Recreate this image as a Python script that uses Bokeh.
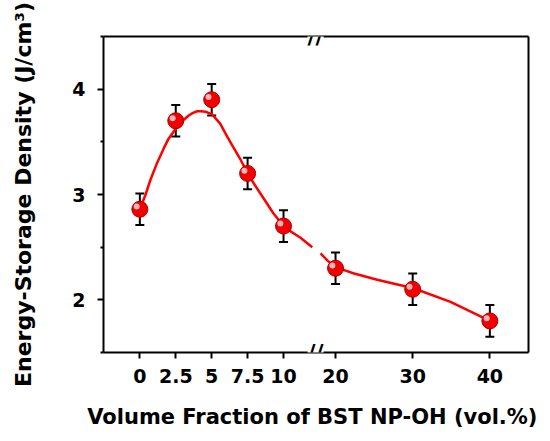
from bokeh.plotting import figure
from bokeh.models import (FixedTicker, Whisker, TeeHead, ColumnDataSource,
                          Range1d, Label, LinearAxis)
from bokeh.embed import file_html
from bokeh.resources import INLINE

# ---- data ----
fraction = [0, 2.5, 5, 7.5, 10, 20, 30, 40]
density = [2.86, 3.70, 3.90, 3.20, 2.70, 2.30, 2.10, 1.80]
err = [0.15, 0.15, 0.15, 0.15, 0.15, 0.15, 0.15, 0.15]
tick_labels = ["0", "2.5", "5", "7.5", "10", "20", "30", "40"]

# fitted curve, left part (before axis break) and right part (after)
curve_left_x = [0, 0.4, 0.74, 1.2, 1.67, 2.0, 2.37, 2.7, 3.06, 3.4, 3.7, 4.0,
                4.22, 4.6, 5.04, 5.6, 6.08, 6.5, 7.01, 7.47, 8.0, 8.63, 9.3,
                10.02, 10.6, 11.18, 12.0]
curve_left_y = [2.86, 3.00, 3.14, 3.30, 3.44, 3.53, 3.60, 3.66, 3.71, 3.75,
                3.775, 3.79, 3.79, 3.785, 3.76, 3.67, 3.55, 3.45, 3.33, 3.21,
                3.09, 2.96, 2.82, 2.70, 2.64, 2.59, 2.50]
curve_right_x = [18.06, 19.0, 20, 21.2, 22.4, 25.4, 30.1, 34.9, 40]
curve_right_y = [2.44, 2.37, 2.31, 2.28, 2.25, 2.19, 2.11, 1.98, 1.80]

# ---- broken x axis: piecewise linear mapping ----
SPLIT = 15.0
RIGHT_START = 20.0
RIGHT_OFFSET = 13.62
RIGHT_SCALE = 0.537
BREAK_POS = 12.23


def to_axis(v):
    if v < SPLIT:
        return v
    return RIGHT_OFFSET + (v - RIGHT_START) * RIGHT_SCALE


xd = [to_axis(v) for v in fraction]
src = ColumnDataSource(dict(
    x=xd, y=density,
    upper=[d + e for d, e in zip(density, err)],
    lower=[d - e for d, e in zip(density, err)],
    hx=[v - 0.22 for v in xd],
    hy=[d + 0.025 for d in density],
))

FONT = "DejaVu Sans"

p = figure(width=542, height=433, output_backend="svg", toolbar_location=None,
           x_range=Range1d(-2.53, 27.05), y_range=Range1d(1.5, 4.5),
           min_border_left=103, min_border_right=14, min_border_top=36,
           min_border_bottom=81)
p.background_fill_color = "white"
p.border_fill_color = "white"
p.grid.visible = False
p.outline_line_color = None

xa = p.below[0]
ya = p.left[0]

# curve
p.line([to_axis(v) for v in curve_left_x], curve_left_y, line_color="#ff0000",
       line_width=2.5)
p.line([to_axis(v) for v in curve_right_x], curve_right_y, line_color="#ff0000",
       line_width=2.5)

# error bars
wh = Whisker(source=src, base="x", upper="upper", lower="lower",
             line_color="black", line_width=2,
             upper_head=TeeHead(size=9, line_width=2, line_color="black"),
             lower_head=TeeHead(size=9, line_width=2, line_color="black"))
p.add_layout(wh)

# sphere-like markers
p.scatter("x", "y", source=src, size=16, fill_color="#f00000",
          line_color="#b00000", line_width=1)
p.scatter("hx", "hy", source=src, size=6, fill_color="#ffc8c8",
          line_color=None, fill_alpha=0.9)

# axes
xticks = [to_axis(v) for v in fraction]
xa.ticker = FixedTicker(ticks=xticks)
xa.major_label_overrides = {t: l for t, l in zip(xticks, tick_labels)}
ya.ticker = FixedTicker(ticks=[2, 3, 4], minor_ticks=[1.5, 2.5, 3.5, 4.5])

for ax in (xa, ya):
    ax.axis_line_width = 2
    ax.axis_line_color = "black"
    ax.major_tick_line_width = 2
    ax.minor_tick_line_width = 2
    ax.major_tick_in = 0
    ax.major_tick_out = 6
    ax.minor_tick_in = 0
    ax.minor_tick_out = 3
    ax.major_label_text_font = FONT
    ax.major_label_text_font_style = "bold"
    ax.major_label_text_font_size = "19px"
    ax.major_label_text_color = "black"
    ax.axis_label_text_font = FONT
    ax.axis_label_text_font_style = "bold"
    ax.axis_label_text_color = "black"

xa.minor_tick_out = 0
xa.major_label_standoff = 10
xa.axis_label = "Volume Fraction of BST NP-OH  (vol.%)"
xa.axis_label_text_font_size = "21px"
xa.axis_label_standoff = 19

ya.major_label_standoff = 12
ya.axis_label = "Energy-Storage Density (J/cm\u00b3)"
ya.axis_label_text_font_size = "22px"
ya.axis_label_standoff = 33

# frame lines on top and right (plain axes without ticks or labels)
for side in ("above", "right"):
    ax = LinearAxis(ticker=FixedTicker(ticks=[]), axis_line_width=2,
                    axis_line_color="black", major_tick_line_color=None,
                    minor_tick_line_color=None,
                    major_label_text_font_size="0px")
    p.add_layout(ax, side)

# axis break marks
for yb in (1.5, 4.5):
    p.add_layout(Label(x=BREAK_POS, y=yb, text="//", text_font=FONT,
                       text_font_style="bold", text_font_size="22px",
                       text_align="center", text_baseline="middle",
                       background_fill_color="white", text_color="black"))

open("out.html", "w").write(file_html(p, INLINE))
